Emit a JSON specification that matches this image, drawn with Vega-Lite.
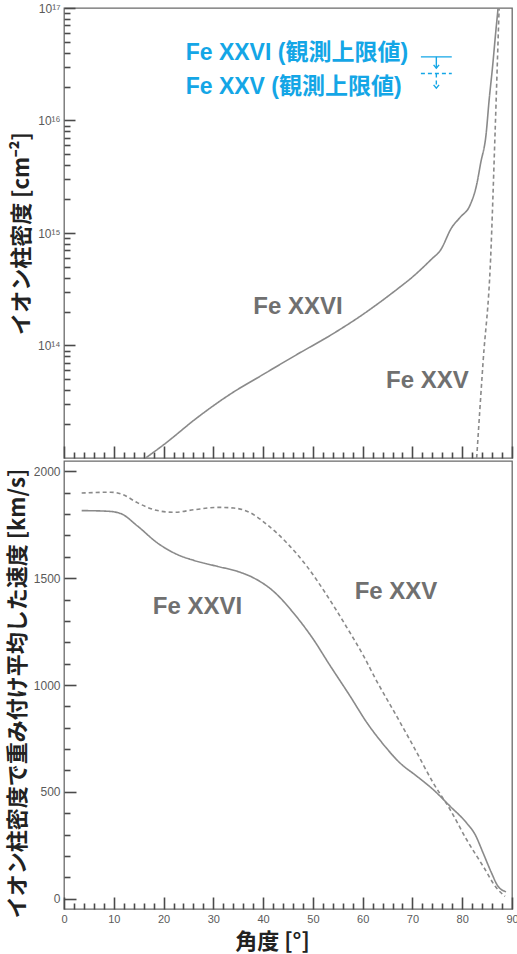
{
  "$schema": "https://vega.github.io/schema/vega-lite/v6.json",
  "background": "white",
  "padding": {"left": 5, "top": 1, "right": 0, "bottom": 0},
  "spacing": 0,
  "config": {
    "view": {"stroke": "#6a6a6a", "strokeWidth": 1.3},
    "axis": {
      "domain": false, "grid": false, "ticks": true, "tickColor": "#4a4a4a", "tickWidth": 1.6, "zindex": 2,
      "labelColor": "#5a5a5a", "labelFont": "Liberation Sans", "labelFontSize": 12,
      "titleFont": "Noto Sans CJK JP", "titleFontSize": 22, "titleFontWeight": "bold", "titleColor": "#222222"
    }
  },
  "datasets": {
    "col": [
      {"ion": "Fe XXVI", "angle": 16.4, "N": 1.0e13},
      {"ion": "Fe XXVI", "angle": 20.1, "N": 1.32e13},
      {"ion": "Fe XXVI", "angle": 26.8, "N": 2.29e13},
      {"ion": "Fe XXVI", "angle": 33.5, "N": 3.72e13},
      {"ion": "Fe XXVI", "angle": 40.1, "N": 5.56e13},
      {"ion": "Fe XXVI", "angle": 46.8, "N": 8.32e13},
      {"ion": "Fe XXVI", "angle": 53.5, "N": 1.23e14},
      {"ion": "Fe XXVI", "angle": 60.2, "N": 1.91e14},
      {"ion": "Fe XXVI", "angle": 63.5, "N": 2.43e14},
      {"ion": "Fe XXVI", "angle": 66.9, "N": 3.16e14},
      {"ion": "Fe XXVI", "angle": 69.5, "N": 3.89e14},
      {"ion": "Fe XXVI", "angle": 73.9, "N": 5.89e14},
      {"ion": "Fe XXVI", "angle": 75.6, "N": 7.0e14},
      {"ion": "Fe XXVI", "angle": 77.9, "N": 1.12e15},
      {"ion": "Fe XXVI", "angle": 79.6, "N": 1.38e15},
      {"ion": "Fe XXVI", "angle": 81.6, "N": 1.78e15},
      {"ion": "Fe XXVI", "angle": 82.9, "N": 2.69e15},
      {"ion": "Fe XXVI", "angle": 83.7, "N": 4.17e15},
      {"ion": "Fe XXVI", "angle": 84.8, "N": 7.59e15},
      {"ion": "Fe XXVI", "angle": 85.4, "N": 1.51e16},
      {"ion": "Fe XXVI", "angle": 86.1, "N": 3.02e16},
      {"ion": "Fe XXVI", "angle": 86.7, "N": 5.89e16},
      {"ion": "Fe XXVI", "angle": 87.2, "N": 1.0e17},
      {"ion": "Fe XXVI", "angle": 87.6, "N": 1.6e17},
      {"ion": "Fe XXV", "angle": 82.9, "N": 1.0e13},
      {"ion": "Fe XXV", "angle": 84.2, "N": 7.24e13},
      {"ion": "Fe XXV", "angle": 85.7, "N": 5.89e14},
      {"ion": "Fe XXV", "angle": 86.6, "N": 7.76e15},
      {"ion": "Fe XXV", "angle": 87.4, "N": 9.55e16},
      {"ion": "Fe XXV", "angle": 87.5, "N": 1.3e17}
    ],
    "vel": [
      {"ion": "Fe XXVI", "angle": 3.55, "v": 1816},
      {"ion": "Fe XXVI", "angle": 8.8, "v": 1813},
      {"ion": "Fe XXVI", "angle": 11.4, "v": 1802},
      {"ion": "Fe XXVI", "angle": 14.8, "v": 1743},
      {"ion": "Fe XXVI", "angle": 18.8, "v": 1664},
      {"ion": "Fe XXVI", "angle": 22.8, "v": 1610},
      {"ion": "Fe XXVI", "angle": 26.1, "v": 1583},
      {"ion": "Fe XXVI", "angle": 30.8, "v": 1555},
      {"ion": "Fe XXVI", "angle": 34.8, "v": 1532},
      {"ion": "Fe XXVI", "angle": 38.1, "v": 1501},
      {"ion": "Fe XXVI", "angle": 42.1, "v": 1438},
      {"ion": "Fe XXVI", "angle": 46.1, "v": 1337},
      {"ion": "Fe XXVI", "angle": 50.2, "v": 1210},
      {"ion": "Fe XXVI", "angle": 53.2, "v": 1100},
      {"ion": "Fe XXVI", "angle": 57.5, "v": 947},
      {"ion": "Fe XXVI", "angle": 60.9, "v": 822},
      {"ion": "Fe XXVI", "angle": 64.2, "v": 721},
      {"ion": "Fe XXVI", "angle": 67.5, "v": 635},
      {"ion": "Fe XXVI", "angle": 70.9, "v": 573},
      {"ion": "Fe XXVI", "angle": 74.2, "v": 510},
      {"ion": "Fe XXVI", "angle": 77.6, "v": 432},
      {"ion": "Fe XXVI", "angle": 80.9, "v": 354},
      {"ion": "Fe XXVI", "angle": 82.6, "v": 300},
      {"ion": "Fe XXVI", "angle": 84.2, "v": 214},
      {"ion": "Fe XXVI", "angle": 85.9, "v": 120},
      {"ion": "Fe XXVI", "angle": 87.2, "v": 58},
      {"ion": "Fe XXVI", "angle": 88.8, "v": 33},
      {"ion": "Fe XXV", "angle": 3.55, "v": 1898},
      {"ion": "Fe XXV", "angle": 9.4, "v": 1902},
      {"ion": "Fe XXV", "angle": 11.8, "v": 1891},
      {"ion": "Fe XXV", "angle": 14.8, "v": 1852},
      {"ion": "Fe XXV", "angle": 18.8, "v": 1816},
      {"ion": "Fe XXV", "angle": 22.1, "v": 1808},
      {"ion": "Fe XXV", "angle": 26.1, "v": 1820},
      {"ion": "Fe XXV", "angle": 30.8, "v": 1831},
      {"ion": "Fe XXV", "angle": 34.1, "v": 1828},
      {"ion": "Fe XXV", "angle": 37.5, "v": 1805},
      {"ion": "Fe XXV", "angle": 40.8, "v": 1750},
      {"ion": "Fe XXV", "angle": 44.8, "v": 1664},
      {"ion": "Fe XXV", "angle": 48.8, "v": 1555},
      {"ion": "Fe XXV", "angle": 52.8, "v": 1420},
      {"ion": "Fe XXV", "angle": 56.8, "v": 1270},
      {"ion": "Fe XXV", "angle": 60.2, "v": 1135},
      {"ion": "Fe XXV", "angle": 62.9, "v": 1015},
      {"ion": "Fe XXV", "angle": 66.2, "v": 880},
      {"ion": "Fe XXV", "angle": 70.2, "v": 713},
      {"ion": "Fe XXV", "angle": 74.2, "v": 541},
      {"ion": "Fe XXV", "angle": 77.6, "v": 416},
      {"ion": "Fe XXV", "angle": 80.9, "v": 276},
      {"ion": "Fe XXV", "angle": 84.2, "v": 152},
      {"ion": "Fe XXV", "angle": 86.9, "v": 50},
      {"ion": "Fe XXV", "angle": 88.6, "v": 11}
    ],
    "colLabels": [
      {"t": "Fe XXVI", "angle": 47.0, "N": 1.905e14},
      {"t": "Fe XXV", "angle": 73.0, "N": 4.23e13}
    ],
    "velLabels": [
      {"t": "Fe XXVI", "angle": 26.8, "v": 1334},
      {"t": "Fe XXV", "angle": 66.7, "v": 1402}
    ],
    "limitText": [
      {"t": "Fe XXVI (観測上限値)", "angle": 24.45, "N": 3.44e16},
      {"t": "Fe XXV (観測上限値)", "angle": 24.45, "N": 1.71e16}
    ],
    "limitSym": [
      {"ion": "Fe XXVI", "a1": 71.7, "a2": 77.9, "am": 74.8, "top": 3.68e16, "tip": 2.92e16},
      {"ion": "Fe XXV", "a1": 71.7, "a2": 77.9, "am": 74.8, "top": 2.62e16, "tip": 1.94e16}
    ]
  },
  "vconcat": [
    {
      "width": 448,
      "height": 450,
      "layer": [
        {
          "data": {"name": "col"},
          "mark": {"type": "line", "clip": true, "interpolate": "monotone", "color": "#8a8a8a", "strokeWidth": 1.6},
          "encoding": {
            "x": {"field": "angle", "type": "quantitative", "scale": {"domain": [0, 90], "nice": false, "zero": false},
                  "axis": {"orient": "bottom", "values": [0, 10, 20, 30, 40, 50, 60, 70, 80, 90], "labels": false, "offset": -12, "tickSize": 12, "title": null}},
            "y": {"field": "N", "type": "quantitative", "scale": {"type": "log", "domain": [1e13, 1e17], "nice": false},
                  "axis": {"orient": "left", "values": [1e14, 1e15, 1e16, 1e17], "offset": -11, "tickSize": 11, "labelPadding": 4,
                           "labelExpr": "'10' + (datum.value > 5e16 ? '¹⁷' : datum.value > 5e15 ? '¹⁶' : datum.value > 5e14 ? '¹⁵' : '¹⁴')",
                           "title": "イオン柱密度 [cm⁻²]", "titlePadding": 4}},
            "strokeDash": {"field": "ion", "type": "nominal", "scale": {"domain": ["Fe XXVI", "Fe XXV"], "range": [[1, 0], [4, 3]]}, "legend": null}
          }
        },
        {
          "data": {"name": "colLabels"},
          "mark": {"type": "text", "align": "center", "baseline": "alphabetic", "font": "Liberation Sans", "fontSize": 24, "fontWeight": "bold", "color": "#707070"},
          "encoding": {
            "x": {"field": "angle", "type": "quantitative", "scale": {"domain": [0, 90], "nice": false, "zero": false},
                  "axis": {"orient": "bottom", "values": [2, 4, 6, 8, 12, 14, 16, 18, 22, 24, 26, 28, 32, 34, 36, 38, 42, 44, 46, 48, 52, 54, 56, 58, 62, 64, 66, 68, 72, 74, 76, 78, 82, 84, 86, 88], "labels": false, "offset": -6, "tickSize": 6, "title": null}},
            "y": {"field": "N", "type": "quantitative", "scale": {"type": "log", "domain": [1e13, 1e17], "nice": false},
                  "axis": {"orient": "left", "values": [2e13, 3e13, 4e13, 5e13, 6e13, 7e13, 8e13, 9e13, 2e14, 3e14, 4e14, 5e14, 6e14, 7e14, 8e14, 9e14, 2e15, 3e15, 4e15, 5e15, 6e15, 7e15, 8e15, 9e15, 2e16, 3e16, 4e16, 5e16, 6e16, 7e16, 8e16, 9e16], "labels": false, "offset": -6, "tickSize": 6, "title": null}},
            "text": {"field": "t", "type": "nominal"}
          }
        },
        {
          "data": {"name": "limitText"},
          "mark": {"type": "text", "align": "left", "baseline": "alphabetic", "font": "Liberation Sans, Noto Sans CJK JP", "fontSize": 23, "fontWeight": "bold", "color": "#14a6e6"},
          "encoding": {
            "x": {"field": "angle", "type": "quantitative", "scale": {"domain": [0, 90], "nice": false, "zero": false}, "axis": null},
            "y": {"field": "N", "type": "quantitative", "scale": {"type": "log", "domain": [1e13, 1e17], "nice": false}, "axis": null},
            "text": {"field": "t", "type": "nominal"}
          }
        },
        {
          "data": {"name": "limitSym"},
          "mark": {"type": "rule", "color": "#14a6e6", "strokeWidth": 1.4},
          "encoding": {
            "x": {"field": "a1", "type": "quantitative", "scale": {"domain": [0, 90], "nice": false, "zero": false}, "axis": null},
            "x2": {"field": "a2"},
            "y": {"field": "top", "type": "quantitative", "scale": {"type": "log", "domain": [1e13, 1e17], "nice": false}, "axis": null},
            "strokeDash": {"field": "ion", "type": "nominal", "scale": {"domain": ["Fe XXVI", "Fe XXV"], "range": [[1, 0], [5, 8]]}, "legend": null}
          }
        },
        {
          "data": {"name": "limitSym"},
          "mark": {"type": "rule", "color": "#14a6e6", "strokeWidth": 1.4},
          "encoding": {
            "x": {"field": "am", "type": "quantitative", "scale": {"domain": [0, 90], "nice": false, "zero": false}, "axis": null},
            "y": {"field": "top", "type": "quantitative", "scale": {"type": "log", "domain": [1e13, 1e17], "nice": false}, "axis": null},
            "y2": {"field": "tip"},
            "strokeDash": {"field": "ion", "type": "nominal", "scale": {"domain": ["Fe XXVI", "Fe XXV"], "range": [[1, 0], [3, 3]]}, "legend": null}
          }
        },
        {
          "data": {"name": "limitSym"},
          "mark": {"type": "point", "shape": "M-1,-1.2L0,0L1,-1.2", "filled": false, "stroke": "#14a6e6", "strokeWidth": 1.4, "size": 30, "opacity": 1},
          "encoding": {
            "x": {"field": "am", "type": "quantitative", "scale": {"domain": [0, 90], "nice": false, "zero": false}, "axis": null},
            "y": {"field": "tip", "type": "quantitative", "scale": {"type": "log", "domain": [1e13, 1e17], "nice": false}, "axis": null}
          }
        }
      ],
      "resolve": {"axis": {"x": "independent", "y": "independent"}}
    },
    {
      "width": 448,
      "height": 448,
      "layer": [
        {
          "data": {"name": "vel"},
          "mark": {"type": "line", "clip": true, "interpolate": "monotone", "color": "#8a8a8a", "strokeWidth": 1.6},
          "encoding": {
            "x": {"field": "angle", "type": "quantitative", "scale": {"domain": [0, 90], "nice": false, "zero": false},
                  "axis": {"orient": "bottom", "values": [0, 10, 20, 30, 40, 50, 60, 70, 80, 90], "offset": -12, "tickSize": 12, "labelPadding": 4, "labelFlush": false, "labelFontSize": 11,
                           "title": "角度 [°]", "titlePadding": 7, "titleX": 208}},
            "y": {"field": "v", "type": "quantitative", "scale": {"domain": [-48, 2048], "nice": false, "zero": false},
                  "axis": {"orient": "left", "values": [0, 500, 1000, 1500, 2000], "format": "d", "offset": -12, "tickSize": 12, "labelPadding": 4,
                           "title": "イオン柱密度で重み付け平均した速度 [km/s]", "titlePadding": 4, "titleY": 232}},
            "strokeDash": {"field": "ion", "type": "nominal", "scale": {"domain": ["Fe XXVI", "Fe XXV"], "range": [[1, 0], [5, 4]]}, "legend": null}
          }
        },
        {
          "data": {"name": "velLabels"},
          "mark": {"type": "text", "align": "center", "baseline": "alphabetic", "font": "Liberation Sans", "fontSize": 24, "fontWeight": "bold", "color": "#707070"},
          "encoding": {
            "x": {"field": "angle", "type": "quantitative", "scale": {"domain": [0, 90], "nice": false, "zero": false},
                  "axis": {"orient": "bottom", "values": [2, 4, 6, 8, 12, 14, 16, 18, 22, 24, 26, 28, 32, 34, 36, 38, 42, 44, 46, 48, 52, 54, 56, 58, 62, 64, 66, 68, 72, 74, 76, 78, 82, 84, 86, 88], "labels": false, "offset": -6, "tickSize": 6, "title": null}},
            "y": {"field": "v", "type": "quantitative", "scale": {"domain": [-48, 2048], "nice": false, "zero": false},
                  "axis": {"orient": "left", "values": [100, 200, 300, 400, 600, 700, 800, 900, 1100, 1200, 1300, 1400, 1600, 1700, 1800, 1900], "labels": false, "offset": -6, "tickSize": 6, "title": null}},
            "text": {"field": "t", "type": "nominal"}
          }
        }
      ],
      "resolve": {"axis": {"x": "independent", "y": "independent"}}
    }
  ]
}
